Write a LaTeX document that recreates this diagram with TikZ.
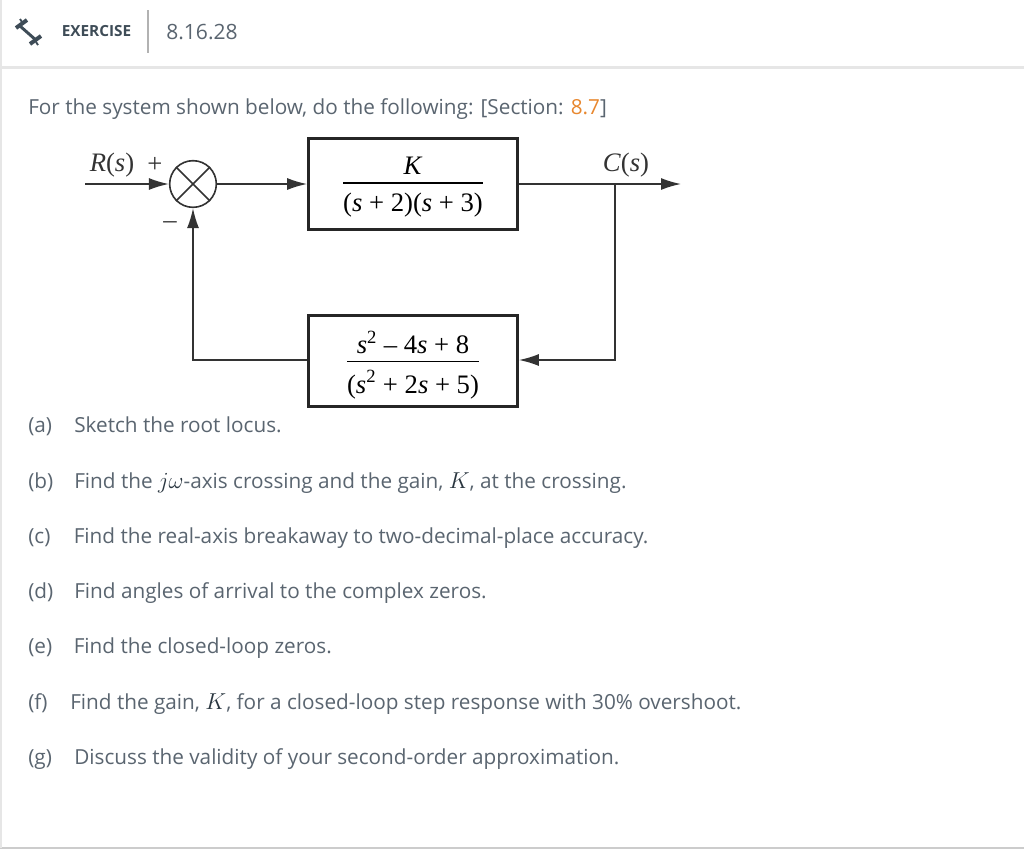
\documentclass[tikz,border=0pt]{standalone}
\usepackage{amsmath}
\usepackage{fontspec}
\setmainfont{Open Sans}
\newfontfamily\dgmfont{Liberation Serif}
\usepackage{xcolor}
\usepackage{tikz}
\usetikzlibrary{arrows.meta, positioning}
\definecolor{bodygrey}{HTML}{5A6570}
\definecolor{headgrey}{HTML}{3E4C57}
\definecolor{mathgrey}{HTML}{2A3640}
\definecolor{rulegrey}{HTML}{E6E6E6}
\definecolor{linkorange}{HTML}{E8872E}
\newcommand{\dgmt}[1]{\text{\dgmfont #1}}
\newcommand{\lowered}[2]{\raisebox{-#1}[\height][\depth]{#2}}
\newcommand{\qmath}[1]{{\fontsize{18}{20}\selectfont\color{mathgrey}$#1$}}
\tikzset{
    bodytext/.style={anchor=base west, inner sep=0pt, text=bodygrey, font=\fontsize{15.55}{19}\selectfont},
    blockbox/.style={draw=black!85, line width=1.8pt, minimum width=157pt, minimum height=68.5pt, inner sep=0pt, font=\fontsize{20}{24}\selectfont},
    dgmlabel/.style={inner sep=0pt, text=black!80, font=\fontsize{20}{24}\selectfont},
    signal/.style={draw=black!80, line width=1.2pt, -{Latex[length=15pt, width=9pt]}}
}

\begin{document}
\begin{tikzpicture}[x=0.75pt, y=-0.75pt]
    \useasboundingbox (0, 0) rectangle (1024, 850);
    \fill[white] (0, 0) rectangle (1024, 850);
    \draw[rulegrey, line width=2pt] (0, 67.5) -- (1024, 67.5);
    \draw[black!20, line width=1.6pt] (0, 848) -- (1024, 848);
    \draw[rulegrey, line width=1pt] (1, 0) -- (1, 848);

    % header
    \draw[headgrey, line width=2.2pt] (20, 26) -- (37, 41);
    \draw[headgrey, line width=3pt] (16, 28) -- (27, 20) (30, 44) -- (41, 36);
    \draw[headgrey, line width=1.4pt] (20, 19) -- (22, 22) (36, 42) -- (38, 45);
    \node[anchor=base west, inner sep=0pt, text=headgrey, font=\fontsize{11.5}{14}\selectfont\bfseries] (exercise) at (61.5, 36) {EXERCISE};
    \node[bodytext, font=\fontsize{15.8}{19}\selectfont] (number) at (166, 39) {8.16.28};
    \draw[black!30, line width=1.5pt] (148, 10) -- (148, 53);

    \node[bodytext] (intro) at (28, 114) {For the system shown below, do the following: [Section: \textcolor{linkorange}{8.7}]};

    % block diagram
    \node[draw=black!80, line width=1.2pt, circle, minimum size=35pt, inner sep=0pt] (sum) at (193, 184) {};
    \draw[black!80, line width=1.2pt]
    (sum.north west) -- (sum.south east)
    (sum.north east) -- (sum.south west);
    \node[blockbox] (plant) at (413, 184) {\lowered{1.2pt}{$\dfrac{\lowered{2.2pt}{\dgmt{\textit{K}}}}{\lowered{2.2pt}{\dgmt{(\textit{s} + 2)(\textit{s} + 3)}}}$}};
    \node[blockbox] (feedback) at (413, 361) {\lowered{1.5pt}{$\dfrac{\lowered{3pt}{$\dgmt{\textit{s}}^{\dgmt{2}}\dgmt{ – 4\textit{s} + 8}$}}{\lowered{3.8pt}{$\dgmt{(\textit{s}}^{\dgmt{2}}\dgmt{ + 2\textit{s} + 5)}$}}$}};
    \coordinate (input) at (85, 184);
    \coordinate (output) at (681, 184);
    \coordinate (branch) at (615, 184);
    \coordinate (corner) at (615, 360);
    \coordinate (return) at (193, 360);
    \node[dgmlabel] (rlabel) at (112, 165) {\dgmfont\textit{R}(\textit{s})};
    \node[dgmlabel] (plus) at (155, 165) {\dgmfont +};
    \node[dgmlabel] (minus) at (170, 225) {\dgmfont –};
    \node[dgmlabel] (clabel) at (626, 165) {\dgmfont\textit{C}(\textit{s})};

    \draw[signal] (input) -- (sum.west);
    \draw[signal] (sum.east) -- (plant.west);
    \draw[signal] (plant.east) -- (output);
    \draw[signal] (branch) -- (corner) -- (feedback.east |- corner);
    \draw[signal] (feedback.west |- return) -- (return) -- (sum.south);

    % questions
    \node[bodytext] (ltra) at (28, 432) {(a)};
    \node[bodytext] (qa) at (74, 432) {Sketch the root locus.};
    \node[bodytext] (ltrb) at (28, 488) {(b)};
    \node[bodytext] (qb) at (74, 488) {Find the \qmath{j\omega}-axis crossing and the gain, \qmath{K}, at the crossing.};
    \node[bodytext] (ltrc) at (28, 543) {(c)};
    \node[bodytext] (qc) at (73.5, 543) {Find the real-axis breakaway to two-decimal-place accuracy.};
    \node[bodytext] (ltrd) at (28, 598) {(d)};
    \node[bodytext] (qd) at (74, 598) {Find angles of arrival to the complex zeros.};
    \node[bodytext] (ltre) at (28, 653) {(e)};
    \node[bodytext] (qe) at (73.5, 653) {Find the closed-loop zeros.};
    \node[bodytext] (ltrf) at (28, 709) {(f)};
    \node[bodytext] (qf) at (70, 709) {Find the gain, \qmath{K}, for a closed-loop step response with 30\% overshoot.};
    \node[bodytext] (ltrg) at (28, 764) {(g)};
    \node[bodytext] (qg) at (74, 764) {Discuss the validity of your second-order approximation.};
\end{tikzpicture}
\end{document}
